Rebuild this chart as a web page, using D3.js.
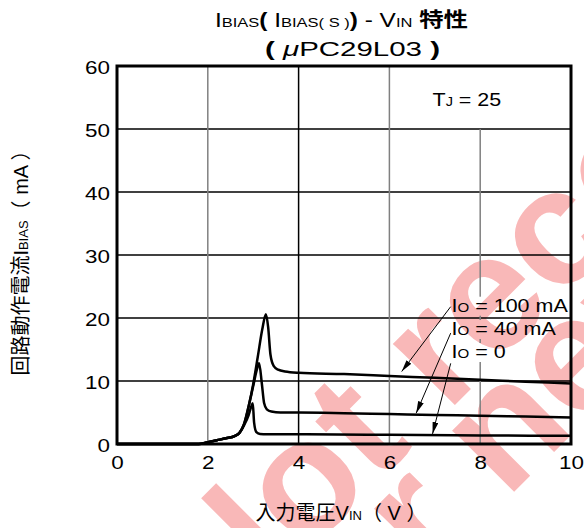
<!DOCTYPE html>
<html>
<head>
<meta charset="utf-8">
<script src="https://cdn.jsdelivr.net/npm/d3@7"></script>
<style>
  body { margin: 0; background: #fff; }
  svg { display: block; }
</style>
</head>
<body>
<svg width="584" height="528"></svg>
<script>
// данные (VIN в В, IBIAS в мА)
const vinIo100  = [0, 1.8, 2.0, 2.2, 2.4, 2.6, 2.7, 2.8, 2.9, 3.0, 3.1, 3.2, 3.28, 3.33, 3.38, 3.45, 3.55, 3.7, 4.0, 5, 6, 7, 8, 9, 10];
const biasIo100 = [0, 0, 0.3, 0.6, 0.9, 1.3, 1.8, 3.2, 6.0, 9.5, 13.8, 18.2, 20.6, 18.5, 14.2, 12.4, 11.8, 11.5, 11.3, 11.1, 10.8, 10.5, 10.2, 9.9, 9.6];

const vinIo40  = [0, 1.8, 2.0, 2.2, 2.4, 2.6, 2.7, 2.8, 2.9, 3.0, 3.08, 3.13, 3.19, 3.24, 3.3, 3.4, 3.6, 4, 5, 6, 7, 8, 9, 10];
const biasIo40 = [0, 0, 0.3, 0.6, 0.9, 1.3, 1.8, 3.2, 6.0, 9.2, 11.8, 12.8, 9.6, 6.5, 5.5, 5.15, 5.0, 5.0, 4.9, 4.75, 4.6, 4.5, 4.35, 4.2];

const vinIo0  = [0, 1.8, 2.0, 2.2, 2.4, 2.6, 2.7, 2.8, 2.9, 2.96, 2.99, 3.02, 3.07, 3.15, 3.3, 4, 6, 8, 10];
const biasIo0 = [0, 0, 0.3, 0.6, 0.9, 1.3, 1.8, 3.0, 4.6, 6.0, 6.45, 3.4, 1.9, 1.6, 1.55, 1.55, 1.45, 1.35, 1.3];

const seriesNames = ["100 mA", "40 mA", "0"];
const xTicks = [0, 2, 4, 6, 8, 10];
const yTicks = [0, 10, 20, 30, 40, 50, 60];

const LAT = "'Liberation Sans', Arial, sans-serif";
const CJK = "'Liberation Sans', 'Noto Sans CJK JP', sans-serif";

const svg = d3.select("svg");

// область построения
const area = { left: 117, right: 571, top: 66, bottom: 444 };

const scX = d3.scaleLinear().domain([0, 10]).range([area.left, area.right]);
const scY = d3.scaleLinear().domain([0, 60]).range([area.bottom, area.top]);

// растянуть текст по горизонтали (шрифт оригинала шире Arial)
function stretch(sel, k) {
    sel.each(function() {
        const w = this.getComputedTextLength();
        d3.select(this).attr("textLength", w * k).attr("lengthAdjust", "spacingAndGlyphs");
    });
}

// водяной знак
const wm = svg.append("g")
    .attr("font-family", LAT)
    .attr("font-weight", "bold")
    .attr("font-size", 165)
    .attr("fill", "#f9b8b8");
wm.append("text").attr("transform", "translate(220,640) rotate(-45)").text("Not recommended");
wm.append("text").attr("transform", "translate(318,688) rotate(-45)").text("for new design");

// подписи кривых (нужны раньше сетки для маски)
const labelPos = { x: 7.37, y: [21.0, 17.3, 13.65] };
const labels = svg.append("g").attr("font-family", LAT).attr("font-size", 18.5).attr("fill", "#000");
seriesNames.forEach((name, i) => {
    const t = labels.append("text")
        .attr("x", scX(labelPos.x))
        .attr("y", scY(labelPos.y[i]));
    t.append("tspan").text("I");
    t.append("tspan").attr("font-size", 13).text("O");
    t.append("tspan").text(" = " + name);
});
stretch(labels.selectAll("text"), 1.16);

// маска: сетка не видна под подписями
const defs = svg.append("defs");
const mask = defs.append("mask").attr("id", "gridMask").attr("maskUnits", "userSpaceOnUse")
    .attr("x", 0).attr("y", 0).attr("width", 584).attr("height", 528);
mask.append("rect").attr("width", 584).attr("height", 528).attr("fill", "#fff");
labels.selectAll("text").each(function() {
    const b = this.getBBox();
    mask.append("rect")
        .attr("x", b.x - 3).attr("y", b.y + 2)
        .attr("width", b.width + 6).attr("height", b.height - 2)
        .attr("fill", "#000");
});

// сетка
const grid = svg.append("g").attr("mask", "url(#gridMask)");
grid.selectAll(".hline")
    .data(yTicks.slice(1, -1))
    .enter()
    .append("line")
    .attr("x1", area.left).attr("x2", area.right)
    .attr("y1", d => scY(d)).attr("y2", d => scY(d))
    .attr("stroke", "#000").attr("stroke-width", 1.5);
grid.selectAll(".vline")
    .data(xTicks.slice(1, -1))
    .enter()
    .append("line")
    .attr("x1", d => scX(d)).attr("x2", d => scX(d))
    .attr("y1", d => d === 8 ? scY(50) : area.top)   // клетка с TJ без линии
    .attr("y2", area.bottom)
    .attr("stroke", d => d === 4 ? "#000" : "#808080")
    .attr("stroke-width", 1.5);

// кривые
const line = d3.line()
    .x(d => scX(d[0]))
    .y(d => scY(d[1]))
    .curve(d3.curveMonotoneX);

const series = [
    d3.zip(vinIo100, biasIo100),
    d3.zip(vinIo40, biasIo40),
    d3.zip(vinIo0, biasIo0)
];
svg.append("g")
    .selectAll("path")
    .data(series)
    .enter()
    .append("path")
    .attr("d", line)
    .attr("fill", "none")
    .attr("stroke", "#000")
    .attr("stroke-width", 2.5)
    .attr("stroke-linejoin", "round");

// рамка
svg.append("rect")
    .attr("x", area.left).attr("y", area.top)
    .attr("width", area.right - area.left)
    .attr("height", area.bottom - area.top)
    .attr("fill", "none")
    .attr("stroke", "#000")
    .attr("stroke-width", 3);

// оси
const axisX = d3.axisBottom(scX).tickValues(xTicks).tickSize(0).tickPadding(12);
const axisY = d3.axisLeft(scY).tickValues(yTicks).tickSize(0).tickPadding(7);

const gx = svg.append("g")
    .attr("transform", `translate(0, ${area.bottom})`)
    .call(axisX);
const gy = svg.append("g")
    .attr("transform", `translate(${area.left}, 0)`)
    .call(axisY);
[gx, gy].forEach(g => {
    g.select(".domain").remove();
    g.selectAll("text")
        .attr("font-family", LAT)
        .attr("font-size", 19)
        .attr("fill", "#000");
});
gy.selectAll("text").attr("dy", "0.42em");
stretch(gx.selectAll("text"), 1.18);
stretch(gy.selectAll("text"), 1.18);

// стрелки к кривым
defs.append("marker")
    .attr("id", "arrow")
    .attr("markerUnits", "userSpaceOnUse")
    .attr("markerWidth", 12).attr("markerHeight", 6)
    .attr("refX", 12).attr("refY", 3)
    .attr("orient", "auto")
    .append("path")
    .attr("d", "M0,0 L12,3 L0,6 Z")
    .attr("fill", "#000");

const arrowFrom = [[7.35, 21.8], [7.35, 17.6], [7.35, 12.8]];
const arrowTo   = [[6.27, 11.5], [6.59, 4.9], [6.95, 1.6]];
svg.append("g")
    .selectAll("line")
    .data(d3.zip(arrowFrom, arrowTo))
    .enter()
    .append("line")
    .attr("x1", d => scX(d[0][0])).attr("y1", d => scY(d[0][1]))
    .attr("x2", d => scX(d[1][0])).attr("y2", d => scY(d[1][1]))
    .attr("stroke", "#000")
    .attr("stroke-width", 1)
    .attr("marker-end", "url(#arrow)");

// TJ = 25
const tj = svg.append("text")
    .attr("x", scX(6.95)).attr("y", scY(53.6))
    .attr("font-family", LAT).attr("font-size", 18.5);
tj.append("tspan").text("T");
tj.append("tspan").attr("font-size", 12.5).text("J");
tj.append("tspan").text(" = 25");
stretch(tj, 1.16);

// заголовок
const title1 = svg.append("text")
    .attr("x", 215).attr("y", 27)
    .attr("font-family", CJK).attr("font-size", 20);
title1.append("tspan").text("I");
title1.append("tspan").attr("font-size", 13.5).text("BIAS");
title1.append("tspan").attr("font-weight", "bold").text("( ");
title1.append("tspan").text("I");
title1.append("tspan").attr("font-size", 13.5).text("BIAS( S )");
title1.append("tspan").attr("font-weight", "bold").text(")");
title1.append("tspan").text(" - V");
title1.append("tspan").attr("font-size", 13.5).text("IN");
title1.append("tspan").attr("font-weight", "bold").text(" 特性");
title1.attr("textLength", 253).attr("lengthAdjust", "spacingAndGlyphs");

const title2 = svg.append("text")
    .attr("x", 265).attr("y", 56)
    .attr("font-family", CJK).attr("font-size", 20);
title2.append("tspan").attr("font-weight", "bold").text("(  ");
title2.append("tspan").attr("font-style", "italic").text("μ");
title2.append("tspan").text("PC29L03  ");
title2.append("tspan").attr("font-weight", "bold").text(")");
title2.attr("textLength", 175).attr("lengthAdjust", "spacingAndGlyphs");

// подписи осей
const xLabel = svg.append("text")
    .attr("x", 341).attr("y", 520)
    .attr("text-anchor", "middle")
    .attr("font-family", CJK).attr("font-size", 20);
xLabel.append("tspan").text("入力電圧V");
xLabel.append("tspan").attr("font-size", 13).text("IN");
xLabel.append("tspan").text("（ V ）");

const yLabel = svg.append("text")
    .attr("transform", "translate(28, 258) rotate(-90)")
    .attr("text-anchor", "middle")
    .attr("font-family", CJK).attr("font-size", 20);
yLabel.append("tspan").text("回路動作電流I");
yLabel.append("tspan").attr("font-size", 13).text("BIAS");
yLabel.append("tspan").text("（ mA ）");
</script>
</body>
</html>
